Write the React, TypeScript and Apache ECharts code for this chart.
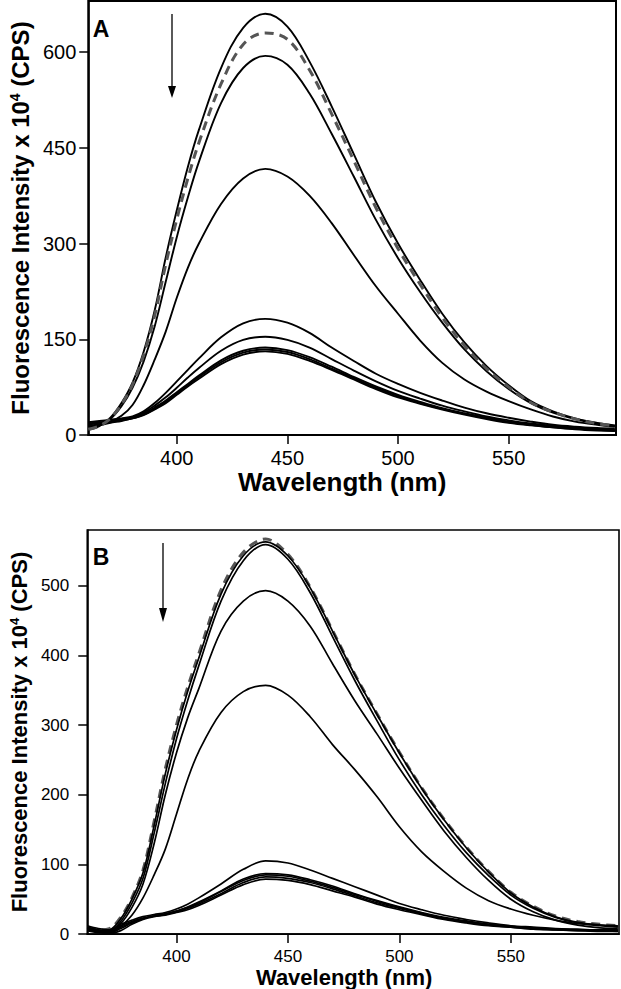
import React, { useEffect, useRef } from "react";
import * as echarts from "echarts";

// Wavelengths (nm)
const WL = [360, 365, 370, 375, 380, 385, 390, 395, 400, 405, 410, 420, 430, 440, 450, 460, 470, 480, 490, 500, 510, 520, 530, 540, 550, 560, 570, 580, 590, 598];

// Panel A spectra (x10^4 CPS)
const A_DASH = [9, 14, 26, 48, 79, 125, 187, 267, 338, 402, 458, 550, 612, 630, 620, 572, 503, 430, 356, 292, 236, 184, 140, 104, 75, 51, 36, 25, 18, 14];
const A_1 = [8, 14, 27, 50, 82, 130, 195, 278, 352, 420, 478, 575, 638, 660, 640, 585, 515, 440, 365, 300, 243, 190, 145, 108, 78, 53, 37, 26, 19, 15];
const A_2 = [10, 15, 25, 45, 74, 115, 170, 240, 310, 372, 428, 520, 575, 594, 580, 535, 472, 405, 337, 277, 224, 176, 134, 100, 72, 50, 35, 25, 18, 14];
const A_3 = [13, 17, 21, 30, 47, 78, 118, 162, 215, 262, 300, 362, 402, 417, 405, 375, 332, 282, 233, 190, 148, 113, 87, 68, 53, 40, 29, 21, 16, 13];
const A_4 = [20, 22, 24, 26, 29, 37, 50, 66, 84, 102, 120, 153, 175, 182, 176, 160, 137, 116, 96, 80, 66, 54, 43, 34, 27, 21, 16, 13, 11, 10];
const A_5 = [18, 20, 22, 25, 28, 35, 46, 59, 74, 90, 105, 132, 149, 154, 149, 137, 119, 101, 84, 69, 57, 46, 37, 29, 23, 18, 14, 11, 9, 8];
const A_6 = [16, 19, 21, 24, 27, 33, 43, 54, 67, 80, 93, 117, 132, 137, 133, 122, 107, 91, 76, 63, 52, 42, 34, 27, 21, 16, 13, 10, 8, 7];
const A_7 = [14, 17, 20, 23, 26, 32, 41, 52, 65, 78, 91, 114, 129, 134, 130, 119, 104, 89, 74, 61, 50, 41, 33, 26, 20, 16, 12, 10, 8, 7];
const A_8 = [12, 15, 19, 22, 26, 31, 40, 50, 63, 76, 88, 111, 126, 131, 127, 116, 102, 87, 72, 59, 49, 40, 32, 25, 19, 15, 12, 9, 7, 6];

// Panel B spectra (x10^4 CPS)
const B_DASH = [10, 6, 8, 24, 52, 92, 162, 237, 300, 354, 402, 494, 548, 567, 545, 498, 436, 373, 316, 261, 210, 165, 125, 90, 60, 40, 26, 18, 14, 12];
const B_1 = [8, 4, 6, 22, 50, 88, 156, 230, 293, 348, 396, 488, 543, 563, 543, 497, 435, 372, 315, 260, 209, 164, 124, 89, 59, 39, 25, 17, 13, 11];
const B_2 = [6, 3, 4, 18, 44, 80, 145, 216, 280, 335, 385, 478, 536, 559, 538, 490, 427, 364, 306, 250, 200, 156, 117, 84, 56, 37, 24, 16, 12, 10];
const B_3 = [10, 5, 5, 15, 38, 72, 130, 200, 260, 310, 352, 435, 478, 493, 478, 442, 388, 335, 287, 238, 192, 148, 110, 77, 50, 32, 20, 13, 9, 8];
const B_4 = [8, 4, 3, 11, 27, 52, 85, 122, 172, 222, 262, 318, 348, 357, 343, 312, 272, 236, 197, 154, 118, 90, 66, 48, 36, 27, 20, 15, 13, 12];
const B_5 = [12, 8, 6, 14, 20, 25, 28, 31, 36, 43, 52, 72, 93, 105, 102, 92, 80, 68, 56, 44, 35, 27, 21, 16, 12, 10, 8, 7, 6, 6];
const B_6 = [10, 6, 5, 12, 18, 23, 26, 29, 33, 39, 46, 62, 79, 87, 85, 78, 69, 58, 48, 39, 31, 24, 19, 14, 11, 9, 7, 6, 5, 5];
const B_7 = [9, 5, 4, 10, 17, 22, 26, 29, 33, 38, 45, 61, 77, 85, 83, 76, 67, 57, 47, 38, 30, 23, 18, 14, 11, 8, 7, 6, 5, 5];
const B_8 = [7, 4, 2, 8, 16, 22, 26, 28, 32, 37, 43, 58, 74, 82, 80, 74, 65, 55, 45, 37, 29, 22, 17, 13, 10, 8, 6, 5, 5, 4];
const B_9 = [5, 2, 1, 5, 14, 21, 25, 27, 31, 35, 41, 56, 71, 79, 77, 71, 62, 53, 43, 35, 28, 21, 16, 12, 10, 7, 6, 5, 4, 4];

// Ticks
const X_TICKS = [400, 450, 500, 550];
const YA_TICKS = [0, 150, 300, 450, 600];
const YB_TICKS = [0, 100, 200, 300, 400, 500];

const FONT = "'Liberation Sans', Arial, Helvetica, sans-serif";

function solid(vals: number[], idx: number, width: number) {
  return {
    type: "line",
    xAxisIndex: idx,
    yAxisIndex: idx,
    data: WL.map((w, i) => [w, vals[i]]),
    showSymbol: false,
    smooth: 0.35,
    lineStyle: { color: "#000", width },
    silent: true,
  };
}

function dashed(vals: number[], idx: number, width: number) {
  return {
    type: "line",
    xAxisIndex: idx,
    yAxisIndex: idx,
    data: WL.map((w, i) => [w, vals[i]]),
    showSymbol: false,
    smooth: 0.35,
    lineStyle: { color: "#555", width, type: [9, 6] },
    silent: true,
  };
}

function xAxis(idx: number, labelSize: number, nameSize: number, nameGap: number, margin: number, padR: number) {
  return {
    type: "value",
    gridIndex: idx,
    min: 360,
    max: 598.5,
    axisLine: { show: true, lineStyle: { color: "#000", width: 1.6 } },
    axisTick: { show: true, inside: false, length: 9, customValues: X_TICKS, lineStyle: { color: "#000", width: 1.5 } },
    axisLabel: { customValues: X_TICKS, fontSize: labelSize, color: "#000", margin, fontFamily: FONT },
    splitLine: { show: false },
    name: "Wavelength (nm)",
    nameLocation: "middle",
    nameGap,
    nameTextStyle: { fontSize: nameSize, fontWeight: "bold", color: "#000", fontFamily: FONT, padding: [0, padR, 0, 0] },
  };
}

function yAxis(idx: number, max: number, ticks: number[], labelSize: number, nameSize: number, nameGap: number, margin: number) {
  return {
    type: "value",
    gridIndex: idx,
    min: 0,
    max,
    axisLine: { show: true, lineStyle: { color: "#000", width: 1.6 } },
    axisTick: { show: true, inside: false, length: 9, customValues: ticks, lineStyle: { color: "#000", width: 1.5 } },
    axisLabel: { customValues: ticks, fontSize: labelSize, color: "#000", margin, fontFamily: FONT },
    splitLine: { show: false },
    name: "Fluorescence Intensity x 10{sup|4} (CPS)",
    nameLocation: "middle",
    nameRotate: 90,
    nameGap,
    nameTextStyle: {
      fontSize: nameSize,
      fontWeight: "bold",
      color: "#000",
      fontFamily: FONT,
      rich: {
        sup: { fontSize: Math.round(nameSize * 0.6), fontWeight: "bold", color: "#000", fontFamily: FONT, verticalAlign: "top" },
      },
    },
  };
}

export default function App() {
  const ref = useRef<HTMLDivElement>(null);
  useEffect(() => {
    if (!ref.current) return;
    const chart = echarts.init(ref.current, undefined, { renderer: "svg" });
    chart.setOption({
      animation: false,
      backgroundColor: "#fff",
      grid: [
        { left: 80, top: 1, width: 536, height: 434, show: true, borderColor: "#000", borderWidth: 2, backgroundColor: "transparent" },
        { left: 71, top: 530, width: 548, height: 405, show: true, borderColor: "#000", borderWidth: 1.6, backgroundColor: "transparent" },
      ],
      xAxis: [xAxis(0, 20, 26, 33, 13, 20), xAxis(1, 17, 22, 29, 14, 18)],
      yAxis: [yAxis(0, 680, YA_TICKS, 20, 24, 50, 12), yAxis(1, 580, YB_TICKS, 17, 22, 44, 18)],
      series: [
        solid(A_1, 0, 1.9),
        solid(A_2, 0, 1.9),
        solid(A_3, 0, 1.9),
        solid(A_4, 0, 1.9),
        solid(A_5, 0, 1.9),
        solid(A_6, 0, 1.9),
        solid(A_7, 0, 1.9),
        solid(A_8, 0, 1.9),
        dashed(A_DASH, 0, 3),
        dashed(B_DASH, 1, 3),
        solid(B_1, 1, 1.7),
        solid(B_2, 1, 1.7),
        solid(B_3, 1, 1.7),
        solid(B_4, 1, 1.7),
        solid(B_5, 1, 1.7),
        solid(B_6, 1, 1.7),
        solid(B_7, 1, 1.7),
        solid(B_8, 1, 1.7),
        solid(B_9, 1, 1.7),
      ],
      graphic: [
        { type: "text", x: 101, y: 29, style: { text: "A", fontSize: 23, fontWeight: "bold", fontFamily: FONT, fill: "#000", textAlign: "center", textVerticalAlign: "middle" } },
        { type: "text", x: 101, y: 557, style: { text: "B", fontSize: 23, fontWeight: "bold", fontFamily: FONT, fill: "#000", textAlign: "center", textVerticalAlign: "middle" } },
        { type: "line", shape: { x1: 172, y1: 14, x2: 172, y2: 88 }, style: { stroke: "#000", lineWidth: 1.3 } },
        { type: "polygon", shape: { points: [[168, 86], [176, 86], [172, 98]] }, style: { fill: "#000" } },
        { type: "line", shape: { x1: 163, y1: 543, x2: 163, y2: 610 }, style: { stroke: "#000", lineWidth: 1.3 } },
        { type: "polygon", shape: { points: [[159, 608], [167, 608], [163, 622]] }, style: { fill: "#000" } },
      ],
    });
    return () => chart.dispose();
  }, []);
  return <div ref={ref} style={{ position: "fixed", left: 0, top: 0, width: 621, height: 989 }} />;
}
